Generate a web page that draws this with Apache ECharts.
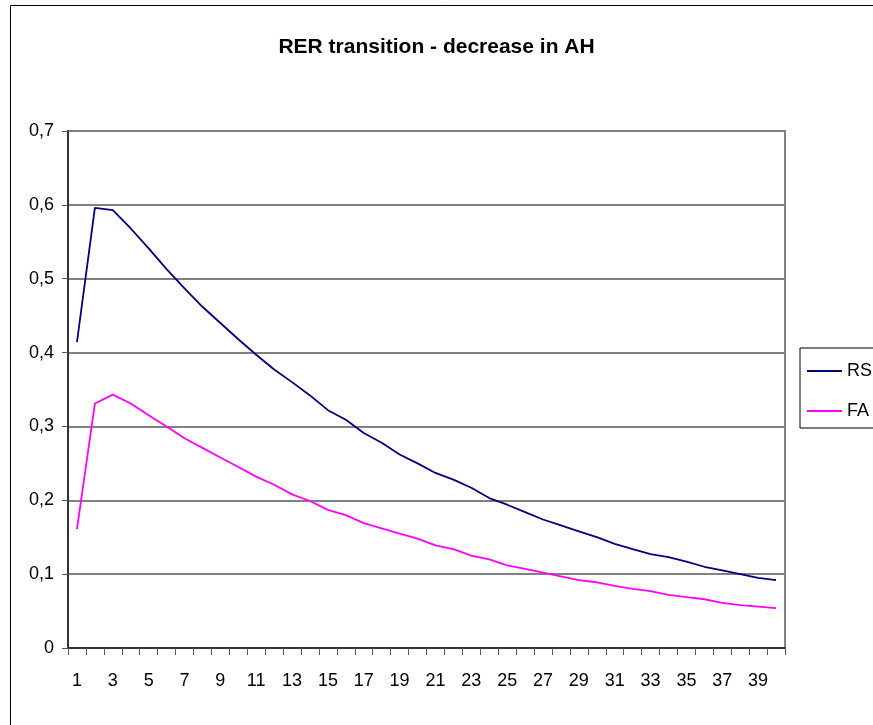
<!DOCTYPE html>
<html>
<head>
<meta charset="utf-8">
<title>RER transition - decrease in AH</title>
<script src="https://cdn.jsdelivr.net/npm/echarts@6/dist/echarts.min.js"></script>
<style>
  html, body { margin: 0; padding: 0; background: #fff; }
  #chart { width: 873px; height: 725px; }
</style>
</head>
<body>
<div id="chart"></div>
<script>
// Time steps 1..40
const categories = Array.from({ length: 40 }, (_, i) => String(i + 1));

// Series values
const rsValues = [0.414, 0.596, 0.593, 0.568, 0.541, 0.513, 0.487, 0.462, 0.440, 0.418,
                  0.397, 0.377, 0.360, 0.342, 0.322, 0.309, 0.291, 0.278, 0.262, 0.250,
                  0.237, 0.228, 0.217, 0.203, 0.194, 0.184, 0.174, 0.166, 0.158, 0.150,
                  0.141, 0.134, 0.127, 0.123, 0.117, 0.110, 0.105, 0.100, 0.095, 0.092];
const faValues = [0.161, 0.331, 0.343, 0.331, 0.315, 0.300, 0.284, 0.271, 0.258, 0.245,
                  0.232, 0.221, 0.208, 0.199, 0.187, 0.180, 0.169, 0.162, 0.155, 0.148,
                  0.139, 0.134, 0.125, 0.120, 0.112, 0.107, 0.102, 0.097, 0.092, 0.089,
                  0.084, 0.080, 0.077, 0.072, 0.069, 0.066, 0.061, 0.058, 0.056, 0.054];

// Value axis tick labels (decimal comma)
const yTickLabels = ['0', '0,1', '0,2', '0,3', '0,4', '0,5', '0,6', '0,7'];

const FONT = 'Liberation Sans, Arial, sans-serif';

const chart = echarts.init(document.getElementById('chart'), null, { renderer: 'canvas' });

chart.setOption({
  animation: false,
  backgroundColor: '#fff',
  title: {
    text: 'RER transition - decrease in AH',
    left: 'center',
    top: 32,
    textStyle: { fontFamily: FONT, fontSize: 21, fontWeight: 'bold', color: '#000' }
  },
  graphic: [{
    type: 'rect',
    shape: { x: 10.5, y: 5.5, width: 900, height: 800 },
    style: { fill: 'none', stroke: '#000', lineWidth: 1 },
    silent: true,
    z: -1
  }],
  legend: {
    orient: 'vertical',
    left: 800,
    top: 348,
    padding: [14, 40, 8, 7],
    itemGap: 22,
    itemWidth: 35,
    itemHeight: 2,
    icon: 'rect',
    borderColor: '#000',
    borderWidth: 1,
    backgroundColor: '#fff',
    textStyle: { fontFamily: FONT, fontSize: 18, color: '#000' },
    data: ['RS', 'FA']
  },
  grid: {
    left: 68, top: 131, width: 717, height: 517,
    show: true,
    borderColor: '#808080',
    borderWidth: 2,
    containLabel: false
  },
  xAxis: {
    type: 'category',
    data: categories,
    boundaryGap: true,
    axisLine: { lineStyle: { color: '#333', width: 2 } },
    axisTick: { show: true, interval: 0, length: 7, lineStyle: { color: '#555', width: 1 } },
    axisLabel: { interval: 1, margin: 24, fontFamily: FONT, fontSize: 18, color: '#000' },
    splitLine: { show: false }
  },
  yAxis: {
    type: 'value',
    min: 0, max: 0.7, interval: 0.1,
    axisLine: { show: true, lineStyle: { color: '#333', width: 2 } },
    axisTick: { show: true, length: 6, lineStyle: { color: '#555', width: 1 } },
    axisLabel: {
      margin: 14, fontFamily: FONT, fontSize: 18, color: '#000',
      formatter: (v) => yTickLabels[Math.round(v * 10)]
    },
    splitLine: { show: true, lineStyle: { color: '#808080', width: 2 } }
  },
  series: [
    {
      name: 'RS', type: 'line', data: rsValues,
      symbol: 'none', smooth: false,
      lineStyle: { color: '#000080', width: 1.8 },
      itemStyle: { color: '#000080' }
    },
    {
      name: 'FA', type: 'line', data: faValues,
      symbol: 'none', smooth: false,
      lineStyle: { color: '#FF00FF', width: 1.8 },
      itemStyle: { color: '#FF00FF' }
    }
  ]
});
</script>
</body>
</html>
